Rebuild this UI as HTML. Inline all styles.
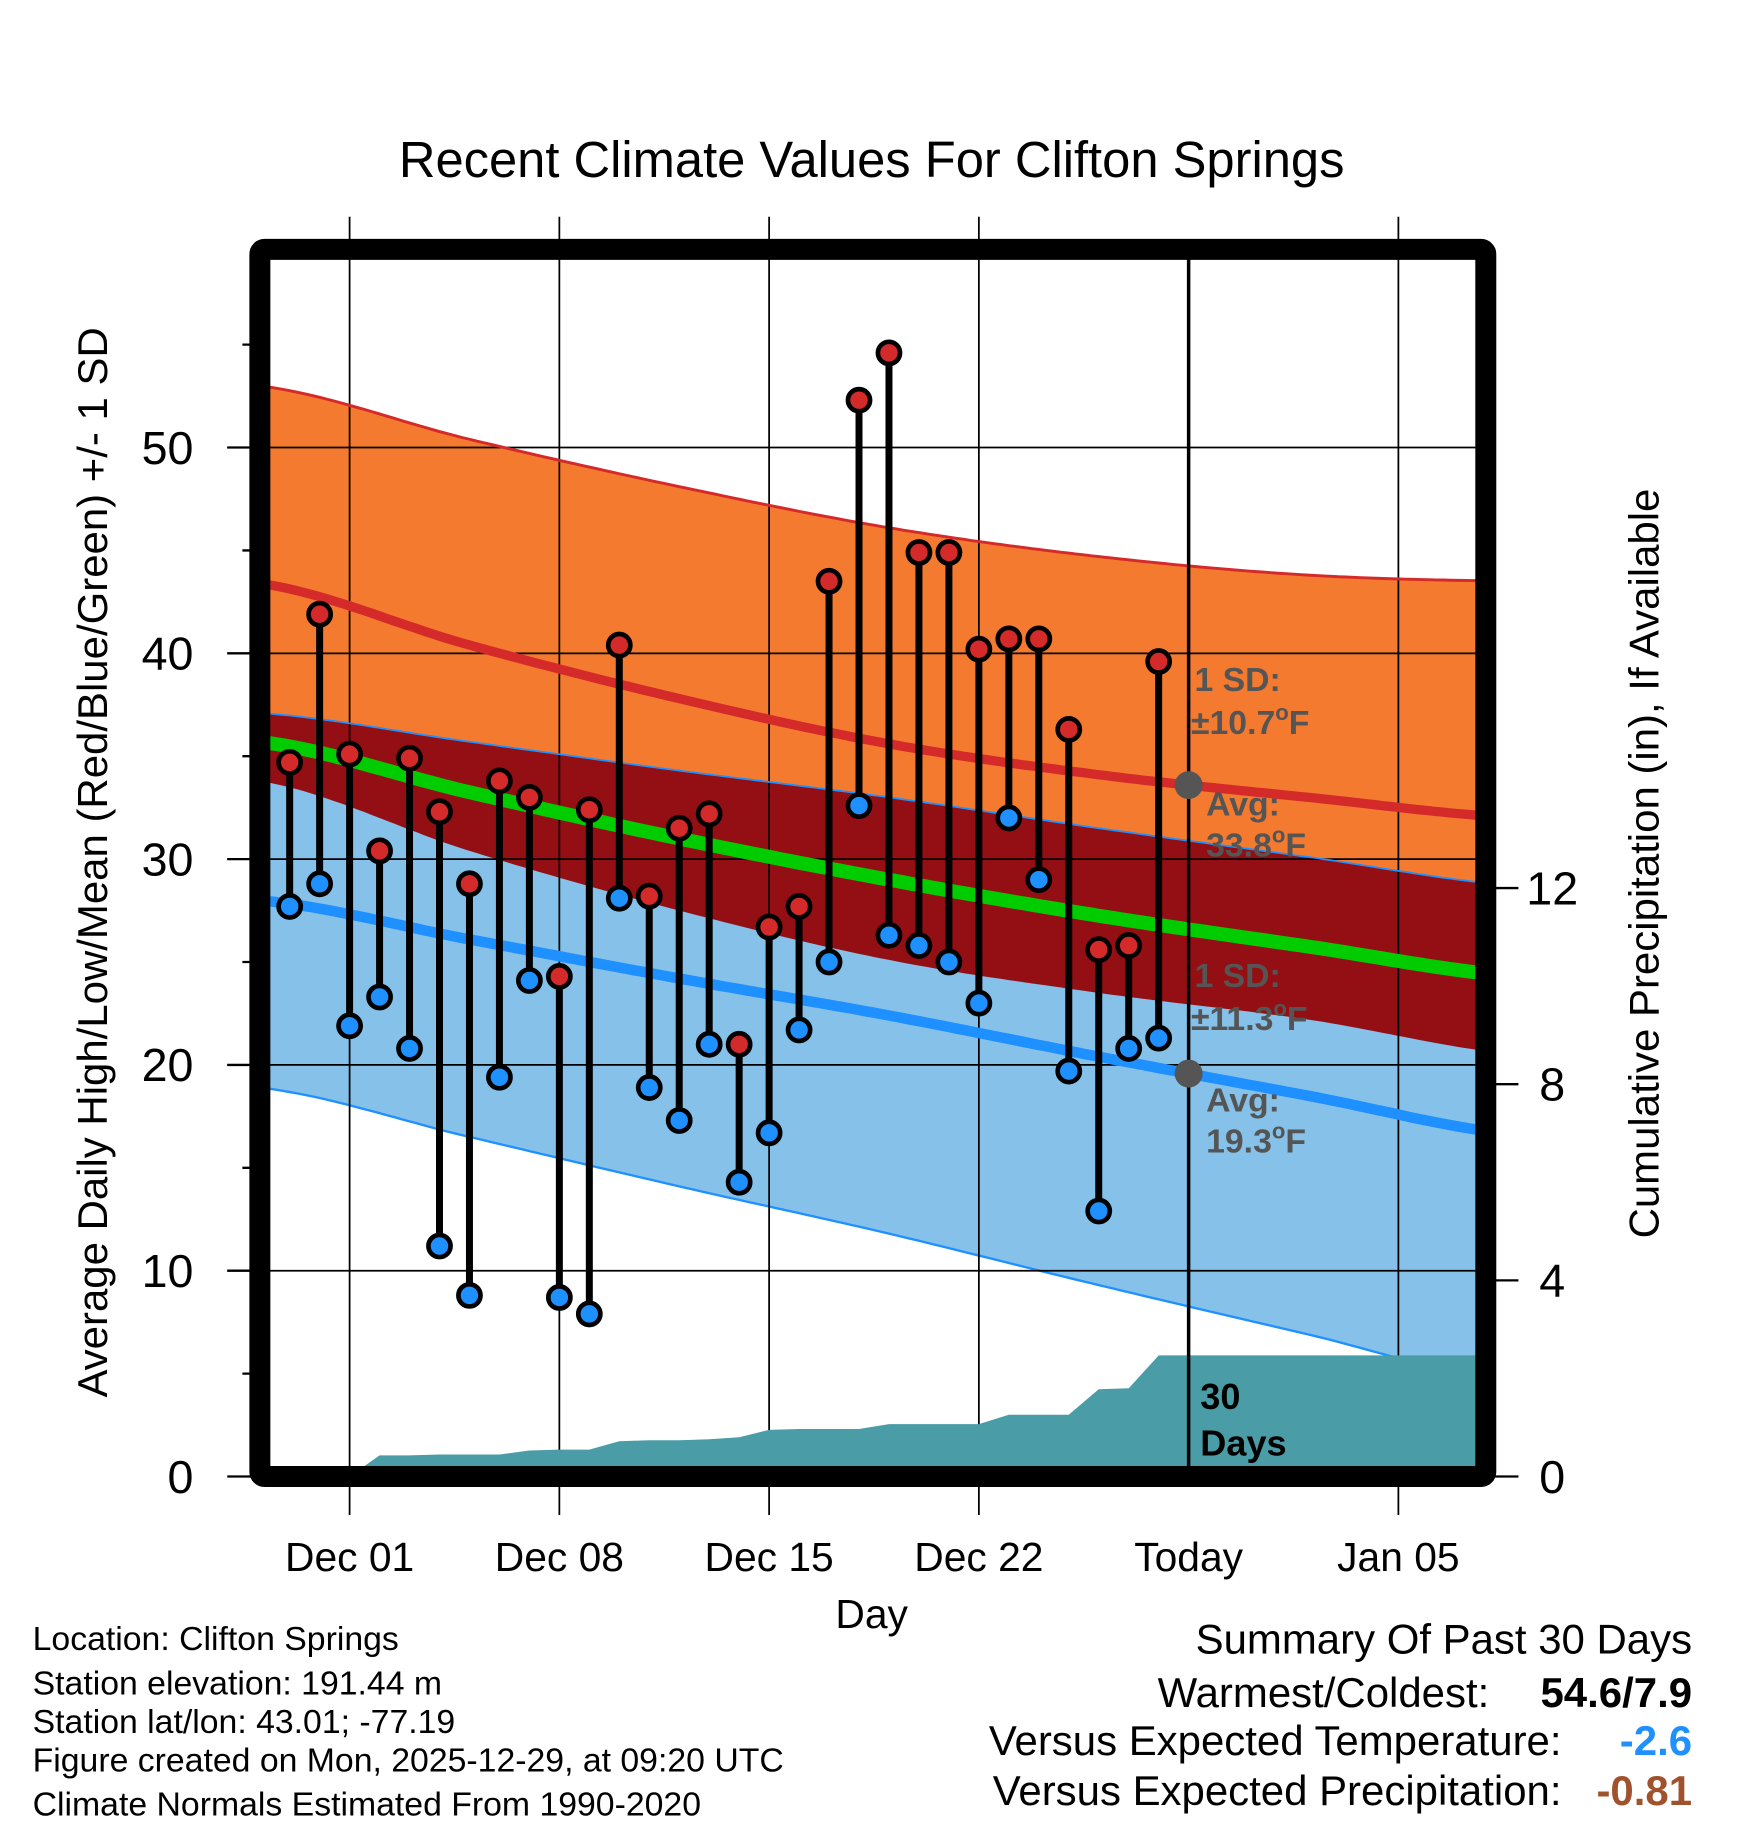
<!DOCTYPE html>
<html><head><meta charset="utf-8"><style>
html,body{margin:0;padding:0;background:#fff;}
svg{display:block;font-family:"Liberation Sans",sans-serif;}
</style></head><body>
<svg id="chart" width="1748" height="1828" viewBox="0 0 1500 1568.6" xmlns="http://www.w3.org/2000/svg">
<defs><clipPath id="plotclip"><rect x="223" y="214" width="1052" height="1053"/></clipPath></defs>
<text x="748" y="152" font-size="43.5" text-anchor="middle">Recent Climate Values For Clifton Springs</text>
<g id="bands" clip-path="url(#plotclip)"></g>
<g id="grid"></g>
<g id="precip" clip-path="url(#plotclip)"></g>
<g id="lines" clip-path="url(#plotclip)"></g>
<g id="marks"></g>
<g id="axes"></g>
<g font-weight="bold" fill="#555" font-size="29">
<text x="1025" y="593">1 SD:</text>
<text x="1022" y="630">±10.7<tspan font-size="19" dy="-12">o</tspan><tspan dy="12">F</tspan></text>
<text x="1035" y="700">Avg:</text>
<text x="1035" y="735">33.8<tspan font-size="19" dy="-12">o</tspan><tspan dy="12">F</tspan></text>
<text x="1025" y="847">1 SD:</text>
<text x="1022" y="884">±11.3<tspan font-size="19" dy="-12">o</tspan><tspan dy="12">F</tspan></text>
<text x="1035" y="954">Avg:</text>
<text x="1035" y="989">19.3<tspan font-size="19" dy="-12">o</tspan><tspan dy="12">F</tspan></text>
</g>
<text x="1030" y="1209" font-size="31" font-weight="bold">30</text>
<text x="1030" y="1249" font-size="31" font-weight="bold">Days</text>
<text transform="translate(92,740) rotate(-90)" font-size="36" text-anchor="middle">Average Daily High/Low/Mean (Red/Blue/Green) +/- 1 SD</text>
<text transform="translate(1423,741) rotate(-90)" font-size="36" text-anchor="middle">Cumulative Precipitation (in), If Available</text>
<text x="748" y="1397" font-size="35" text-anchor="middle">Day</text>
<g font-size="29">
<text x="28" y="1416">Location: Clifton Springs</text>
<text x="28" y="1454">Station elevation: 191.44 m</text>
<text x="28" y="1487">Station lat/lon: 43.01; -77.19</text>
<text x="28" y="1520">Figure created on Mon, 2025-12-29, at 09:20 UTC</text>
<text x="28" y="1558">Climate Normals Estimated From 1990-2020</text>
</g>
<g font-size="36" text-anchor="end">
<text x="1452" y="1419">Summary Of Past 30 Days</text>
<text x="1278" y="1465">Warmest/Coldest:</text>
<text x="1452" y="1465" font-weight="bold">54.6/7.9</text>
<text x="1340" y="1506">Versus Expected Temperature:</text>
<text x="1452" y="1506" font-weight="bold" fill="#1e90ff">-2.6</text>
<text x="1340" y="1549">Versus Expected Precipitation:</text>
<text x="1452" y="1549" font-weight="bold" fill="#a0522d">-0.81</text>
</g>
</svg>
<script>
// Day offsets relative to Dec 01
const normDays = [-3, 4, 11, 18, 25, 32, 39];
const normHigh = [43.4, 40.4, 37.8, 35.6, 34.1, 33.0, 32.0];
const normLow  = [28.0, 26.1, 24.2, 22.4, 20.4, 18.5, 16.6];
const highSD   = [9.6, 10.0, 10.3, 10.5, 10.6, 10.8, 11.5];
const lowSD    = [9.1, 9.6, 10.1, 10.6, 11.1, 11.6, 12.1];
const obsDays = [-2,-1,0,1,2,3,4,5,6,7,8,9,10,11,12,13,14,15,16,17,18,19,20,21,22,23,24,25,26,27];
const obsHigh = [34.7,41.9,35.1,30.4,34.9,32.3,28.8,33.8,33.0,24.3,32.4,40.4,28.2,31.5,32.2,21.0,26.7,27.7,43.5,52.3,54.6,44.9,44.9,40.2,40.7,40.7,36.3,25.6,25.8,39.6];
const obsLow  = [27.7,28.8,21.9,23.3,20.8,11.2,8.8,19.4,24.1,8.7,7.9,28.1,18.9,17.3,21.0,14.3,16.7,21.7,25.0,32.6,26.3,25.8,25.0,23.0,32.0,29.0,19.7,12.9,20.8,21.3];
const precipCum = [0,0,0,0.43,0.43,0.45,0.45,0.45,0.53,0.55,0.55,0.72,0.74,0.74,0.76,0.8,0.95,0.97,0.97,0.97,1.07,1.07,1.07,1.07,1.26,1.26,1.26,1.78,1.8,2.47];
const xTickDays = [0, 7, 14, 21, 28, 35];
const xTickLabels = ["Dec 01","Dec 08","Dec 15","Dec 22","Today","Jan 05"];
const yTicks = [0,10,20,30,40,50];
const y2Ticks = [0,4,8,12];

const NS = "http://www.w3.org/2000/svg";
const x = t => 300 + t * 25.714;
const y = v => 1267 - v * 17.66;
const yp = p => 1267 - p * 42.08;
function mk(tag, attrs, parent){ const e=document.createElementNS(NS,tag); for(const k in attrs) e.setAttribute(k,attrs[k]); parent.appendChild(e); return e; }
function interp(arr, t){
  let i=0; while(i<normDays.length-2 && t>normDays[i+1]) i++;
  const p0=arr[Math.max(i-1,0)],p1=arr[i],p2=arr[i+1],p3=arr[Math.min(i+2,arr.length-1)];
  const u=(t-normDays[i])/(normDays[i+1]-normDays[i]);
  return 0.5*((2*p1)+(-p0+p2)*u+(2*p0-5*p1+4*p2-p3)*u*u+(-p0+3*p1-3*p2+p3)*u*u*u);
}
const samples=[]; for(let t=-3.5;t<=38.5;t+=0.25) samples.push(t);
const fHi=t=>interp(normHigh,t), fLo=t=>interp(normLow,t), fHs=t=>interp(highSD,t), fLs=t=>interp(lowSD,t);
function band(top,bot){ let d=samples.map((t,i)=>(i?'L':'M')+x(t).toFixed(1)+','+y(top(t)).toFixed(1)).join(''); d+=samples.slice().reverse().map(t=>'L'+x(t).toFixed(1)+','+y(bot(t)).toFixed(1)).join('')+'Z'; return d; }
function line(f){ return samples.map((t,i)=>(i?'L':'M')+x(t).toFixed(1)+','+y(f(t)).toFixed(1)).join(''); }

const bands=document.getElementById('bands');
let e;
e=mk('path',{d:band(t=>fHi(t)+fHs(t),t=>fHi(t)-fHs(t)),fill:'#f47a30'},bands);
 
e=mk('path',{d:band(t=>fLo(t)+fLs(t),t=>fLo(t)-fLs(t)),fill:'#85c1e9'},bands);
 
e=mk('path',{d:band(t=>fLo(t)+fLs(t),t=>fHi(t)-fHs(t)),fill:'#940f14'},bands);
 
e=mk('path',{d:line(t=>fLo(t)-fLs(t)),fill:'none',stroke:'#1e90ff','stroke-width':2},bands);
 

const grid=document.getElementById('grid');
yTicks.forEach(v=>{ if(v>0){ e=mk('line',{x1:195,x2:1275,y1:y(v),y2:y(v),stroke:'#000','stroke-width':1.5},grid);
   }});
xTickDays.forEach((t,i)=>{ if(i!==4){ e=mk('line',{x1:x(t),x2:x(t),y1:186,y2:1300,stroke:'#000','stroke-width':1.5},grid);
   }});

const pr=document.getElementById('precip');
let pd='M'+x(obsDays[0])+','+yp(0);
obsDays.forEach((t,i)=>{ pd+='L'+x(t).toFixed(1)+','+yp(precipCum[i]).toFixed(1); });
pd+='L1280,'+yp(precipCum[precipCum.length-1]).toFixed(1)+'L1280,'+yp(0)+'Z';
e=mk('path',{d:pd,fill:'#4a9ca6'},pr);
 

const ln=document.getElementById('lines');
e=mk('path',{d:line(t=>fHi(t)+fHs(t)),fill:'none',stroke:'#d42a2a','stroke-width':2.5},ln);
 
e=mk('path',{d:line(t=>fLo(t)+fLs(t)),fill:'none',stroke:'#1e90ff','stroke-width':1.5},ln);
 
e=mk('path',{d:line(t=>(fHi(t)+fLo(t))/2),fill:'none',stroke:'#00cc00','stroke-width':12},ln);
 
e=mk('path',{d:line(fHi),fill:'none',stroke:'#d42a2a','stroke-width':8},ln);
 
e=mk('path',{d:line(fLo),fill:'none',stroke:'#1e90ff','stroke-width':9},ln);
 
e=mk('line',{x1:x(28),x2:x(28),y1:214,y2:1267,stroke:'#000','stroke-width':3},ln);
 
e=mk('circle',{cx:x(28),cy:y(fHi(28)),r:12,fill:'#555'},ln);
 
e=mk('circle',{cx:x(28),cy:y(fLo(28)),r:12,fill:'#555'},ln);
 

const mg=document.getElementById('marks');
obsDays.forEach((t,i)=>{
  e=mk('line',{x1:x(t),x2:x(t),y1:y(obsHigh[i]),y2:y(obsLow[i]),stroke:'#000','stroke-width':6},mg);
   
});
obsDays.forEach((t,i)=>{
  e=mk('circle',{cx:x(t),cy:y(obsHigh[i]),r:9.5,fill:'#d42a2a',stroke:'#000','stroke-width':4},mg);
   
  e=mk('circle',{cx:x(t),cy:y(obsLow[i]),r:9.5,fill:'#1e90ff',stroke:'#000','stroke-width':4},mg);
   
});

const ax=document.getElementById('axes');
e=mk('rect',{x:223,y:214,width:1052,height:1053,fill:'none',stroke:'#000','stroke-width':18,rx:4},ax);
 
yTicks.forEach(v=>{
  e=mk('line',{x1:195,x2:223,y1:y(v),y2:y(v),stroke:'#000','stroke-width':2},ax);
   
  e=mk('text',{x:166,y:y(v)+14,'font-size':40,'text-anchor':'end'},ax); e.textContent=v;
   
});
[5,15,25,35,45,55].forEach(v=>{
  e=mk('line',{x1:208,x2:223,y1:y(v),y2:y(v),stroke:'#000','stroke-width':2},ax);
   
});
y2Ticks.forEach(p=>{
  e=mk('line',{x1:1275,x2:1303,y1:yp(p),y2:yp(p),stroke:'#000','stroke-width':2},ax);
   
  e=mk('text',{x:1332,y:yp(p)+14,'font-size':40,'text-anchor':'middle'},ax); e.textContent=p;
   
});
xTickDays.forEach((t,i)=>{
  e=mk('text',{x:x(t),y:1348,'font-size':35,'text-anchor':'middle'},ax); e.textContent=xTickLabels[i];
   
});
</script>
</body></html>
